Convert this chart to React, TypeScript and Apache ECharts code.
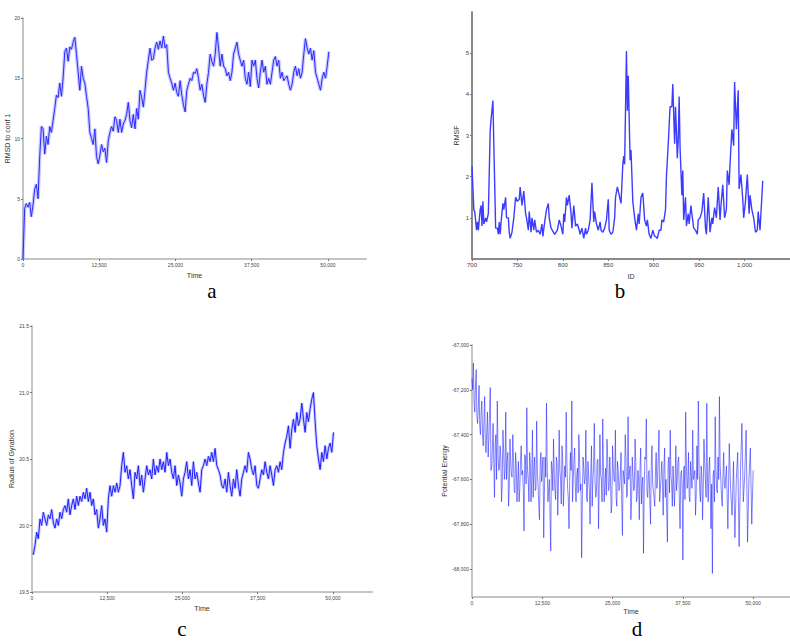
import React, { useEffect, useRef } from "react";
import * as echarts from "echarts";

// ---------- tick labels ----------
const timeTicks = [0, 12500, 25000, 37500, 50000];
const rmsdTicks = [0, 5, 10, 15, 20];
const rmsfTicks = [1, 2, 3, 4, 5];
const idTicks = [700, 750, 800, 850, 900, 950, 1000];
const gyrTicks = [19.5, 20, 20.5, 21, 21.5];
const energyTicks = [-68000, -67800, -67600, -67400, -67200, -67000];

// ---------- (a) RMSD to conf 1 vs Time ----------
const rmsdStep = 274;
const rmsdValues = [
  0, 4.2, 4.6, 4.3, 4.7, 3.5, 4.5, 5.8, 6.2, 5.0, 8.5, 11.0, 10.8, 8.7, 10.2, 9.5, 11.0, 10.5, 11.5, 12.5,
  13.6, 13.4, 14.6, 13.5, 15.0, 17.2, 17.5, 16.4, 17.6, 17.4, 18.0, 18.4, 17.0, 15.5, 14.0, 16.0, 15.0, 14.6, 13.5, 12.5,
  10.5, 10.0, 9.5, 10.8, 8.5, 7.9, 8.6, 9.5, 8.9, 9.2, 8.0, 9.8, 10.5, 11.0, 10.6, 11.8, 11.5, 10.5, 11.6, 10.5,
  11.2, 11.5, 12.0, 13.0, 11.5, 10.9, 12.0, 10.8, 12.5, 11.6, 14.0, 13.4, 12.6, 14.0, 15.5, 16.5, 17.5, 16.5, 16.6, 17.5,
  18.0, 17.4, 18.1, 17.5, 18.5, 17.5, 17.8, 15.5, 15.0, 14.6, 14.0, 14.6, 13.8, 13.5, 14.8, 13.6, 12.8, 12.2, 14.0, 14.5,
  15.0, 14.8, 15.5, 15.4, 15.8, 15.0, 14.0, 14.5, 13.6, 13.0, 14.5, 15.5, 17.0, 16.4, 16.0, 17.0, 18.8, 17.5, 16.0, 17.0,
  16.0, 15.8, 15.2, 15.5, 14.8, 15.5, 17.0, 17.5, 18.0, 17.0, 16.5, 16.0, 16.5, 15.0, 14.5, 15.5, 14.3, 16.5, 16.0, 16.5,
  15.0, 14.2, 15.5, 16.5, 15.5, 16.0, 14.5, 15.0, 14.5, 15.5, 16.5, 16.8, 16.0, 16.5, 15.0, 15.5, 14.8, 15.0, 15.2, 14.5,
  14.0, 14.5, 15.5, 16.0, 15.2, 15.8, 15.0, 15.5, 17.0, 18.3, 17.5, 17.0, 17.5, 16.5, 17.3, 15.5, 15.0, 14.5, 14.0, 15.0,
  15.5, 15.0, 16.0, 17.2
];

// ---------- (b) RMSF vs residue ID ----------
const rmsfIds = [
  700, 702, 703, 705, 706, 707, 709, 710, 711, 712, 713, 715, 716, 718, 720, 721, 723, 725, 726, 728,
  729, 730, 731, 732, 734, 735, 737, 738, 740, 741, 742, 744, 746, 748, 750, 752, 753, 755, 757, 759,
  760, 762, 763, 765, 766, 768, 769, 771, 773, 775, 777, 778, 780, 782, 784, 785, 787, 791, 794, 796,
  798, 800, 801, 802, 804, 805, 807, 809, 810, 812, 814, 816, 818, 819, 821, 823, 825, 826, 828, 830,
  832, 834, 835, 837, 839, 841, 842, 844, 846, 848, 850, 851, 853, 855, 857, 858, 860, 862, 864, 866,
  867, 868, 870, 871, 872, 874, 875, 877, 879, 881, 883, 884, 886, 888, 890, 892, 893, 895, 897, 899,
  901, 902, 904, 906, 908, 909, 911, 913, 914, 916, 918, 920, 921, 923, 924, 926, 927, 928, 929, 931,
  932, 933, 935, 936, 938, 939, 941, 942, 944, 946, 948, 949, 951, 953, 955, 957, 958, 960, 962, 964,
  965, 967, 969, 971, 973, 974, 976, 978, 980, 981, 983, 984, 986, 988, 989, 991, 993, 994, 996, 998,
  999, 1001, 1003, 1005, 1006, 1008, 1010, 1012, 1014, 1015, 1017, 1020
];
const rmsfValues = [
  2.25, 1.2, 1.15, 0.7, 0.9, 0.7, 1.2, 1.3, 0.8, 1.4, 0.85, 1.0, 0.9, 1.1, 3.1, 3.4, 3.85, 1.8, 0.75, 0.75,
  0.6, 0.9, 0.6, 0.9, 1.35, 1.2, 1.5, 1.0, 1.0, 0.65, 0.5, 0.65, 1.0, 1.5, 1.4, 1.45, 1.75, 1.3, 1.65, 1.1,
  1.0, 0.7, 1.15, 0.65, 1.0, 0.7, 0.95, 0.65, 0.7, 0.6, 0.85, 0.55, 0.9, 1.2, 1.35, 1.0, 0.75, 0.6, 0.7, 0.95,
  0.8, 0.6, 1.1, 0.9, 1.5, 1.3, 1.55, 1.1, 0.75, 1.3, 0.8, 0.85, 0.7, 0.6, 0.75, 0.5, 0.75, 0.6, 0.7, 0.95,
  1.85, 0.9, 1.15, 0.85, 0.7, 0.9, 0.7, 0.65, 0.75, 0.95, 1.45, 0.7, 0.6, 0.65, 1.0, 1.5, 1.75, 1.55, 1.35, 2.3,
  2.5, 2.3, 5.05, 3.6, 4.45, 2.4, 2.65, 1.4, 1.0, 0.7, 1.1, 0.85, 1.5, 1.6, 0.95, 0.8, 0.95, 0.6, 0.5, 0.7,
  0.55, 0.55, 0.5, 0.7, 0.7, 0.95, 0.9, 1.2, 2.0, 2.8, 3.7, 3.7, 4.25, 2.8, 3.7, 2.45, 2.9, 3.95, 2.7, 1.55,
  2.15, 0.95, 1.5, 0.8, 1.1, 0.85, 1.3, 1.1, 0.75, 0.7, 0.6, 0.95, 1.0, 1.15, 1.6, 0.75, 0.6, 1.5, 0.65, 1.0,
  0.85, 1.25, 1.0, 1.75, 0.95, 1.3, 1.8, 1.0, 1.2, 2.15, 1.8, 2.3, 3.15, 2.75, 4.3, 3.15, 4.1, 1.7, 2.05, 1.45,
  1.0, 1.4, 2.05, 1.1, 1.55, 1.2, 1.0, 0.65, 0.7, 1.15, 0.7, 1.9
];

// ---------- (c) Radius of Gyration vs Time ----------
const gyrStart = 220;
const gyrStep = 277;
const gyrValues = [
  19.78, 19.85, 19.95, 19.9, 20.05, 20.0, 20.1, 20.05, 20.0, 20.08, 20.05, 20.12, 20.02, 19.98, 20.05, 20.0, 20.1, 20.05, 20.12, 20.15,
  20.1, 20.2, 20.08, 20.15, 20.2, 20.12, 20.22, 20.15, 20.22, 20.18, 20.25, 20.2, 20.28, 20.18, 20.25, 20.15, 20.2, 20.08, 20.12, 19.98,
  20.05, 20.15, 20.0, 20.05, 19.95, 20.2, 20.3, 20.22, 20.3, 20.25, 20.32, 20.25, 20.3, 20.45, 20.55, 20.4, 20.45, 20.35, 20.42, 20.3,
  20.2, 20.4, 20.35, 20.45, 20.3, 20.38, 20.25, 20.35, 20.45, 20.38, 20.42, 20.35, 20.5, 20.38, 20.45, 20.4, 20.5, 20.42, 20.48, 20.4,
  20.55, 20.45, 20.5, 20.4, 20.35, 20.45, 20.3, 20.38, 20.32, 20.22, 20.35, 20.4, 20.48, 20.35, 20.42, 20.3, 20.48, 20.35, 20.4, 20.32,
  20.25, 20.42, 20.45, 20.5, 20.45, 20.52, 20.48, 20.55, 20.48, 20.58, 20.45, 20.42, 20.38, 20.3, 20.28, 20.35, 20.25, 20.4, 20.3, 20.22,
  20.35, 20.28, 20.42, 20.3, 20.22, 20.35, 20.4, 20.45, 20.4, 20.55, 20.5, 20.42, 20.38, 20.45, 20.3, 20.28, 20.35, 20.42, 20.38, 20.48,
  20.4, 20.35, 20.45, 20.38, 20.3, 20.42, 20.45, 20.4, 20.48, 20.42, 20.55, 20.62, 20.67, 20.75, 20.58, 20.72, 20.8, 20.7, 20.85, 20.75,
  20.8, 20.92, 20.8, 20.7, 20.85, 20.78, 20.88, 20.95, 21.0, 20.78, 20.6, 20.5, 20.42, 20.55, 20.48, 20.6, 20.5, 20.58, 20.62, 20.55,
  20.7
];

// ---------- (d) Potential Energy vs Time ----------
// samples every 250 time units (t = 0, 250, ...) and the samples in between (t = 125, 375, ...)
const energyStep = 250;
const energyValues = [
  -67150, -67080, -67300, -67110, -67350, -67180, -67400, -67250, -67450, -67230, -67480, -67300, -67420, -67190, -67550, -67350, -67680, -67400, -67250, -67560,
  -67450, -67700, -67380, -67600, -67300, -67520, -67720, -67420, -67580, -67400, -67650, -67480, -67700, -67520, -67640, -67450, -67560, -67830, -67500, -67280,
  -67600, -67480, -67700, -67380, -67560, -67650, -67340, -67620, -67780, -67480, -67560, -67860, -67500, -67260, -67700, -67600, -67920, -67550, -67420, -67650,
  -67500, -67760, -67380, -67600, -67450, -67720, -67540, -67300, -67640, -67820, -67480, -67250, -67600, -67460, -67700, -67550, -67400, -67650, -67950, -67500,
  -67620, -67380, -67700, -67520, -67800, -67450, -67600, -67350, -67680, -67520, -67820, -67400, -67600, -67330, -67700, -67550, -67420, -67650, -67500, -67750,
  -67450, -67600, -67380, -67720, -67560, -67640, -67480, -67850, -67560, -67400, -67680, -67320, -67600, -67780, -67500, -67650, -67420, -67700, -67560, -67780,
  -67460, -67620, -67930, -67500, -67330, -67680, -67560, -67800, -67450, -67620, -67720, -67480, -67600, -67380, -67640, -67520, -67760, -67460, -67600, -67880,
  -67500, -67380, -67620, -67540, -67720, -67450, -67600, -67500, -67820, -67560, -67960, -67540, -67300, -67640, -67480, -67700, -67520, -67380, -67600, -67760,
  -67450, -67250, -67650, -67540, -67780, -67420, -67600, -67260, -67700, -67500, -67820, -68020, -67560, -67320, -67640, -67500, -67230, -67600, -67720, -67480,
  -67640, -67540, -67820, -67440, -67650, -67760, -67520, -67860, -67600, -67480, -67900, -67560, -67350, -67700, -67580, -67380, -67880, -67600, -67460, -67800,
  -67560
];
const energyMidValues = [
  -67200, -67260, -67180, -67320, -67280, -67360, -67300, -67400, -67340, -67450,
  -67380, -67500, -67420, -67560, -67460, -67520, -67440, -67600, -67480, -67550,
  -67500, -67620, -67470, -67560, -67600, -67480, -67640, -67520, -67590, -67500,
  -67660, -67540, -67610, -67700, -67520, -67580, -67650, -67490, -67620, -67560,
  -67700, -67530, -67600, -67680, -67500, -67640, -67570, -67720, -67540, -67610,
  -67500, -67660, -67590, -67540, -67700, -67600, -67520, -67650, -67580, -67690,
  -67530, -67620, -67560, -67710, -67500, -67640, -67590, -67530, -67680, -67610,
  -67560, -67700, -67520, -67630, -67580, -67660, -67500, -67620, -67700, -67550,
  -67600, -67680, -67520, -67650, -67570, -67720, -67540, -67600, -67660, -67510,
  -67630, -67580, -67700, -67540, -67620, -67670, -67500, -67640, -67590, -67710,
  -67550, -67610, -67680, -67520, -67650, -67580, -67700, -67560, -67620, -67500,
  -67670, -67600, -67540, -67700, -67580, -67640, -67520, -67680, -67600, -67550,
  -67710, -67590, -67630, -67510, -67660, -67570, -67700, -67540, -67620, -67680,
  -67560, -67640, -67500, -67700, -67590, -67620, -67550, -67680, -67600, -67530,
  -67660, -67580, -67720, -67540, -67610, -67650, -67520, -67700, -67580, -67630,
  -67560, -67690, -67540, -67620, -67680, -67520, -67640, -67600, -67560, -67660,
  -67600, -67540, -67700, -67580, -67640, -67520, -67680, -67600, -67560, -67640,
  -67620, -67580, -67700, -67550, -67660, -67600, -67540, -67680, -67590, -67620
];

const fmt = (v: number) => v.toLocaleString("en-US");
const tickFont = "Liberation Sans";

function xAxis(gridIndex: number, min: number, max: number, ticks: number[], name: string, color: string, fontSize: number, nameGap: number) {
  return {
    type: "value", gridIndex, min, max, name, nameLocation: "middle", nameGap,
    nameTextStyle: { fontFamily: tickFont, fontSize: 7, color: "#333" },
    axisLine: { show: true, onZero: false, lineStyle: { color, width: 2 } },
    axisTick: { show: true, length: 2, lineStyle: { color: "#777", width: 1 }, customValues: ticks },
    axisLabel: { fontFamily: tickFont, fontSize, color: "#444", margin: 3, customValues: ticks, formatter: (v: number) => fmt(v) },
    splitLine: { show: false },
  };
}
function yAxis(gridIndex: number, min: number, max: number, ticks: number[], name: string, color: string, fontSize: number, nameGap: number, formatter: (v: number) => string) {
  return {
    type: "value", gridIndex, min, max, name, nameLocation: "middle", nameGap,
    nameTextStyle: { fontFamily: tickFont, fontSize: 7, color: "#333" },
    axisLine: { show: true, onZero: false, lineStyle: { color, width: 2 } },
    axisTick: { show: true, length: 2, lineStyle: { color: "#777", width: 1 }, customValues: ticks },
    axisLabel: { fontFamily: tickFont, fontSize, color: "#444", margin: 3, customValues: ticks, formatter },
    splitLine: { show: false },
  };
}

export default function App() {
  const ref = useRef<HTMLDivElement>(null);
  useEffect(() => {
    if (!ref.current) return;
    const chart = echarts.init(ref.current, null, { renderer: "svg" });
    const rmsdData = rmsdValues.map((v, i) => [i * rmsdStep, v]);
    const rmsfData = rmsfIds.map((id, i) => [id, rmsfValues[i]]);
    const gyrData = gyrValues.map((v, i) => [gyrStart + i * gyrStep, v]);
    const energyData: number[][] = [];
    energyValues.forEach((v, i) => {
      energyData.push([i * energyStep, v]);
      if (i < energyMidValues.length) energyData.push([i * energyStep + energyStep / 2, energyMidValues[i]]);
    });
    const line = (xi: number, data: number[][], color: string, width: number, z = 2) => ({
      type: "line", xAxisIndex: xi, yAxisIndex: xi, data, showSymbol: false, symbol: "none", z,
      lineStyle: { color, width }, silent: true,
    });
    chart.setOption({
      animation: false,
      backgroundColor: "#ffffff",
      grid: [
        { left: 23, top: 18, width: 343, height: 241 },
        { left: 472, top: 12, width: 327, height: 247 },
        { left: 32, top: 326, width: 340, height: 266 },
        { left: 472, top: 345, width: 328, height: 252 },
      ],
      xAxis: [
        xAxis(0, 0, 56230, timeTicks, "Time", "#c4c4c4", 5, 13),
        xAxis(1, 700, 1050, idTicks, "ID", "#8a8a8a", 6, 14),
        xAxis(2, 0, 56480, timeTicks, "Time", "#c4c4c4", 5, 13),
        xAxis(3, 0, 56550, timeTicks, "Time", "#c4c4c4", 5, 11),
      ],
      yAxis: [
        yAxis(0, 0, 20, rmsdTicks, "RMSD to conf 1", "#c4c4c4", 5, 10, (v) => fmt(v)),
        yAxis(1, 0, 6, rmsfTicks, "RMSF", "#8a8a8a", 6, 12, (v) => fmt(v)),
        yAxis(2, 19.5, 21.5, gyrTicks, "Radius of Gyration", "#c4c4c4", 5, 15, (v) => v.toFixed(1)),
        yAxis(3, -68125, -67000, energyTicks, "Potential Energy", "#c4c4c4", 5, 24, (v) => fmt(v)),
      ],
      series: [
        line(0, rmsdData, "rgba(120,120,255,0.4)", 3.5, 1),
        line(0, rmsdData, "#2a2aff", 1, 2),
        line(1, rmsfData, "#3c3cff", 1.4, 2),
        line(2, gyrData, "rgba(120,120,255,0.4)", 3, 1),
        line(2, gyrData, "#2020ff", 1, 2),
        line(3, energyData, "rgba(30,30,255,0.55)", 1, 2),
      ],
      graphic: [
        { type: "text", x: 212, y: 291, style: { text: "a", fontFamily: "Liberation Serif", fontSize: 21, fill: "#000", align: "center", verticalAlign: "middle" } },
        { type: "text", x: 620, y: 291, style: { text: "b", fontFamily: "Liberation Serif", fontSize: 21, fill: "#000", align: "center", verticalAlign: "middle" } },
        { type: "text", x: 182, y: 629, style: { text: "c", fontFamily: "Liberation Serif", fontSize: 21, fill: "#000", align: "center", verticalAlign: "middle" } },
        { type: "text", x: 637, y: 629, style: { text: "d", fontFamily: "Liberation Serif", fontSize: 21, fill: "#000", align: "center", verticalAlign: "middle" } },
      ],
    });
    return () => chart.dispose();
  }, []);
  return <div ref={ref} style={{ position: "fixed", left: 0, top: 0, width: 790, height: 642, background: "#fff" }} />;
}
